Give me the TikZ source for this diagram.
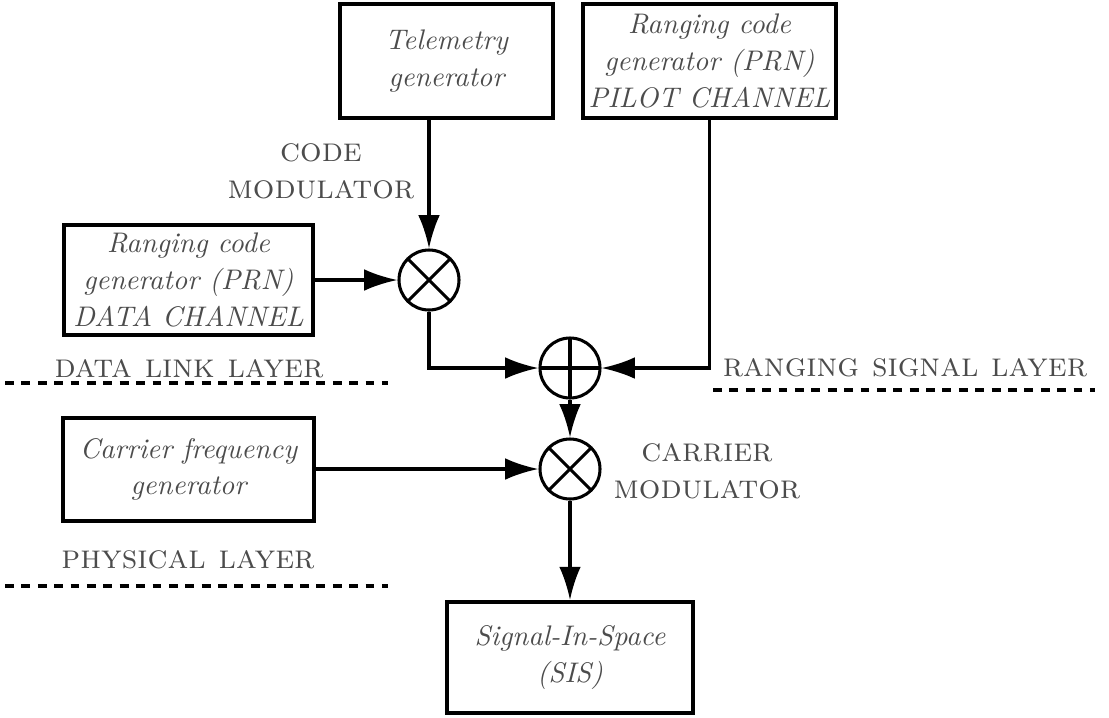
\documentclass[tikz,border=0pt]{standalone}
\usetikzlibrary{arrows.meta}
\definecolor{txt}{gray}{0.3}
\begin{document}
\begin{tikzpicture}[x=0.36pt,y=-0.36pt,
 box/.style={draw, line width=1.35pt, text=txt, font=\fontsize{10.2}{13.2}\selectfont\itshape, align=center, inner sep=0pt},
 mixer/.style={draw, circle, line width=1.1pt, minimum size=21.6pt, inner sep=0pt,
   path picture={\draw[line width=1.1pt] (path picture bounding box.north west) -- (path picture bounding box.south east)
     (path picture bounding box.north east) -- (path picture bounding box.south west);}},
 adder/.style={draw, circle, line width=1.1pt, minimum size=21.6pt, inner sep=0pt,
   path picture={\draw[line width=1.1pt] (path picture bounding box.north) -- (path picture bounding box.south)
     (path picture bounding box.east) -- (path picture bounding box.west);}},
 arr/.style={line width=1.1pt, -{Latex[length=12pt,width=7.8pt]}},
 lab/.style={text=txt, font=\fontsize{12.2}{13.3}\selectfont\scshape, align=center},
 layer/.style={line width=1.4pt, dash pattern=on 3.2pt off 2.7pt}]
\useasboundingbox (0,0) rectangle (1109,717);

\node[box, minimum width=76.7pt, minimum height=41pt] (tel) at (446.5,61) {Telemetry\\generator};
\node[box, minimum width=91.1pt, minimum height=41pt] (pil) at (709.5,61) {Ranging code\\generator (PRN)\\PILOT CHANNEL};
\node[box, minimum width=89.6pt, minimum height=39.6pt] (dat) at (188.5,280) {Ranging code\\generator (PRN)\\DATA CHANNEL};
\node[box, minimum width=90.4pt, minimum height=37.1pt] (car) at (188.5,469.5) {Carrier frequency\\generator};
\node[box, minimum width=88.6pt, minimum height=40pt] (sis) at (570,657.5) {Signal-In-Space\\(SIS)};

\node[mixer] (m1) at (429,280) {};
\node[adder] (ad) at (570,368) {};
\node[mixer] (m2) at (570,469) {};

\node[lab] (codemod) at (321,171) {code\\modulator};
\node[lab] (carmod) at (707,471) {carrier\\modulator};
\node[lab, anchor=base] (dll) at (189,377) {data link layer};
\node[lab, anchor=base] (rsl) at (905,376) {ranging signal layer};
\node[lab, anchor=base] (phy) at (188,568) {physical layer};

\coordinate (d1a) at (5,383);
\coordinate (d1b) at (388,383);
\coordinate (d2a) at (713,390);
\coordinate (d2b) at (1095,390);
\coordinate (d3a) at (5,586);
\coordinate (d3b) at (388,586);
\draw[layer] (d1a) -- (d1b);
\draw[layer] (d2a) -- (d2b);
\draw[layer] (d3a) -- (d3b);

\draw[arr] (m1 |- tel.south) -- (m1.north);
\draw[arr] (dat.east) -- (m1.west);
\draw[arr] (m1.south) |- (ad.west);
\draw[arr] (pil.south) |- (ad.east);
\draw[arr] (ad.south) -- (m2.north);
\draw[arr] (car.east |- m2) -- (m2.west);
\draw[arr] (m2.south) -- (sis.north);
\end{tikzpicture}
\end{document}
